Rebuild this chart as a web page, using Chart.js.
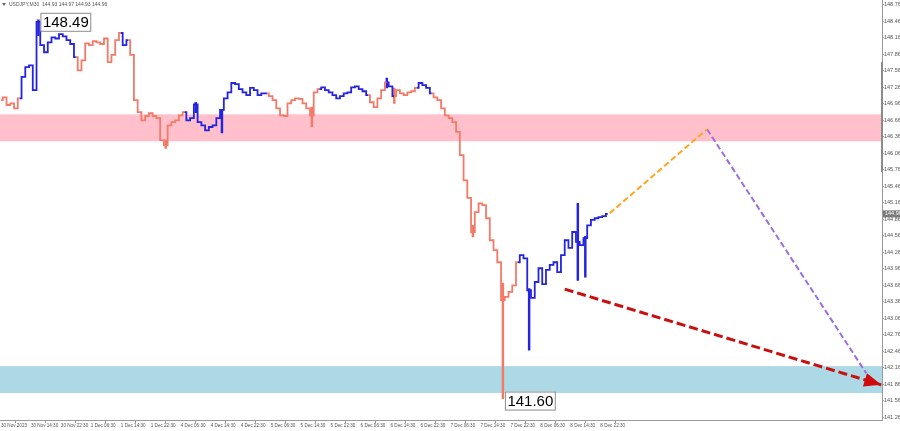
<!DOCTYPE html>
<html>
<head>
<meta charset="utf-8">
<script src="https://cdn.jsdelivr.net/npm/chart.js@4.4.0/dist/chart.umd.min.js"></script>
<style>
html, body { margin: 0; padding: 0; background: #fff; }
</style>
</head>
<body>
<canvas id="myChart" width="900" height="431"></canvas>
<script>
// ----------------------------
// data (USDJPY M30, one close per hour = every 2nd bar)
// ----------------------------
const closes = [
    147.03, 147.08, 146.94, 146.97, 146.88, 147.06, 147.45, 147.63, 147.66, 147.21,
    148.45, 148.03, 147.90, 148.08, 148.17, 148.15, 148.23, 148.19, 148.12, 148.05,
    147.81, 147.57, 147.75, 148.06, 148.03, 148.10, 148.08, 148.05, 148.15, 147.72,
    147.85, 148.12, 148.25, 148.03, 148.12, 147.85, 147.03, 146.81, 146.66, 146.74,
    146.79, 146.74, 146.70, 146.30, 146.21, 146.57, 146.63, 146.66, 146.75, 146.81,
    146.66, 146.70, 146.95, 146.63, 146.57, 146.48, 146.54, 146.57, 146.70, 146.85,
    147.06, 147.17, 147.34, 147.32, 147.23, 147.17, 147.12, 147.25, 147.21, 147.12,
    147.15, 147.15, 147.10, 147.03, 146.88, 146.75, 146.74, 146.97, 147.03, 147.06,
    147.05, 146.97, 146.88, 146.75, 147.17, 147.23, 147.26, 147.21, 147.17, 147.12,
    147.06, 147.10, 147.15, 147.17, 147.26, 147.28, 147.23, 147.19, 147.12, 146.99,
    146.90, 147.06, 147.21, 147.35, 147.28, 147.10, 147.21, 147.15, 147.12, 147.17,
    147.19, 147.25, 147.34, 147.30, 147.25, 147.15, 147.08, 147.03, 146.88, 146.75,
    146.70, 146.63, 146.45, 146.03, 145.57, 145.25, 144.63, 144.99, 145.15, 145.12,
    144.88, 144.48, 144.30, 144.08, 143.39, 143.45, 143.54, 143.66, 144.08, 144.21,
    144.15, 143.57, 143.43, 143.72, 143.97, 143.68, 143.94, 144.03, 144.08, 143.90,
    144.21, 144.48, 144.34, 144.63, 144.45, 144.39, 144.52, 144.75, 144.85, 144.88,
    144.90, 144.92, 144.96
];
const BARS_PER_SLOT = 2;

// wave starts (slot index), alternating down / up, first one is down
const waveStart = [0, 5, 20, 32, 34, 49, 71, 85, 98, 103, 105, 111, 115, 138];

// long wicks
const spikeSlot = [10, 44, 52, 59, 83, 103, 105, 126, 134, 141, 154, 156];
const spikeLow  = [148.20, 146.15, 146.80, 146.43, 146.54, 147.25, 146.97, 144.54, 141.60, 142.48, 143.75, 143.81];
const spikeHigh = [148.49, 146.30, 146.99, 146.85, 146.90, 147.43, 147.25, 144.75, 143.70, 143.60, 145.15, 144.55];

const highLabel = { slot: 10, price: 148.49 };
const lowLabel = { slot: 134, price: 141.60 };

const timeLabels = [
    '30 Nov 2023', '30 Nov 14:30', '30 Nov 22:30', '1 Dec 06:30', '1 Dec 14:30', '1 Dec 22:30',
    '4 Dec 06:30', '4 Dec 14:30', '4 Dec 22:30', '5 Dec 06:30', '5 Dec 14:30', '5 Dec 22:30',
    '6 Dec 06:30', '6 Dec 14:30', '6 Dec 22:30', '7 Dec 06:30', '7 Dec 14:30', '7 Dec 22:30',
    '8 Dec 06:30', '8 Dec 14:30', '8 Dec 22:30'
];
const BARS_PER_LABEL = 16;

const priceTicks = [
    148.76, 148.46, 148.16, 147.86, 147.56, 147.26, 146.96, 146.66, 146.36, 146.06,
    145.76, 145.46, 145.16, 144.86, 144.56, 144.26, 143.96, 143.66, 143.36, 143.06,
    142.76, 142.46, 142.16, 141.86, 141.56, 141.26
];

const sellZone = [146.77, 146.28];
const buyZone = [142.19, 141.70];

// forecast paths, x in M30 bars
const upLegBars = [325, 377];
const upLegPrice = [144.97, 146.50];
const downLegBars = [377, 462];
const downLegPrice = [146.50, 142.06];
const arrowBars = [301, 470];
const arrowPrice = [143.59, 141.85];

const title = 'USDJPY,M30  144.93 144.97 144.93 144.96';
const lastPrice = 144.96;

const BLUE = '#2323e0';
const SALMON = '#f47a68';

function waveColor(slot) {
    let k = 0;
    for (let i = 0; i < waveStart.length; i++) {
        if (waveStart[i] <= slot) k = i;
    }
    return k % 2 === 1 ? BLUE : SALMON;
}

// ----------------------------
// extra drawing
// ----------------------------
const overlays = {
    id: 'overlays',
    beforeDatasetsDraw(chart) {
        const { ctx, chartArea: a, scales: { y } } = chart;
        ctx.save();
        [[sellZone, '#ffc0cb'], [buyZone, '#add8e6']].forEach(([z, c]) => {
            const y0 = y.getPixelForValue(z[0]);
            const y1 = y.getPixelForValue(z[1]);
            ctx.fillStyle = c;
            ctx.fillRect(a.left, y0, a.right - a.left, y1 - y0);
        });
        ctx.restore();
    },
    afterDatasetsDraw(chart) {
        const { ctx, scales: { x, y } } = chart;
        ctx.save();
        // arrow head
        const x0 = x.getPixelForValue(arrowBars[0]), y0 = y.getPixelForValue(arrowPrice[0]);
        const x1 = x.getPixelForValue(arrowBars[1]), y1 = y.getPixelForValue(arrowPrice[1]);
        const ang = Math.atan2(y1 - y0, x1 - x0);
        const len = 17, half = 7;
        ctx.fillStyle = '#d00a0a';
        ctx.beginPath();
        ctx.moveTo(x1, y1);
        ctx.lineTo(x1 - len * Math.cos(ang) + half * Math.sin(ang), y1 - len * Math.sin(ang) - half * Math.cos(ang));
        ctx.lineTo(x1 - len * Math.cos(ang) - half * Math.sin(ang), y1 - len * Math.sin(ang) + half * Math.cos(ang));
        ctx.closePath();
        ctx.fill();

        // extreme labels
        ctx.font = '15px "Liberation Sans", Arial, sans-serif';
        ctx.textBaseline = 'middle';
        [highLabel, lowLabel].forEach(l => {
            const px = x.getPixelForValue(l.slot * BARS_PER_SLOT) + 2;
            const py = y.getPixelForValue(l.price) + 2;
            const txt = l.price.toFixed(2);
            const w = ctx.measureText(txt).width + 4;
            ctx.fillStyle = '#fff';
            ctx.fillRect(px, py - 9, w, 18);
            ctx.strokeStyle = '#8c8c8c';
            ctx.lineWidth = 1;
            ctx.strokeRect(px + 0.5, py - 8.5, w, 18);
            ctx.fillStyle = '#000';
            ctx.fillText(txt, px + 2.5, py + 1);
        });
        ctx.restore();
    },
    afterDraw(chart) {
        const { ctx, chartArea: a, scales: { y } } = chart;
        ctx.save();
        // title
        ctx.fillStyle = '#666';
        ctx.beginPath();
        ctx.moveTo(2, 3); ctx.lineTo(6, 3); ctx.lineTo(4, 6); ctx.closePath();
        ctx.fill();
        ctx.font = '5px "Liberation Sans", Arial, sans-serif';
        ctx.textBaseline = 'middle';
        ctx.fillStyle = '#555';
        ctx.fillText(title, 9, 5);

        // scroll mark on the price axis
        ctx.fillStyle = '#8a8a8a';
        ctx.fillRect(a.right - 1, y.getPixelForValue(147.72), 2, y.getPixelForValue(145.72) - y.getPixelForValue(147.72));

        // current price tag
        const py = y.getPixelForValue(lastPrice);
        ctx.fillStyle = '#7a7a7a';
        ctx.fillRect(a.right + 1, py - 3.5, 20, 7);
        ctx.fillStyle = '#fff';
        ctx.font = '5.5px "Liberation Sans", Arial, sans-serif';
        ctx.fillText(lastPrice.toFixed(2), a.right + 3, py);
        ctx.restore();
    }
};

// ----------------------------
// chart
// ----------------------------
const ctx = document.getElementById('myChart').getContext('2d');
const xFont = { family: '"Liberation Sans", Arial, sans-serif', size: 4.6, lineHeight: 1.1 };
const yFont = { family: '"Liberation Sans", Arial, sans-serif', size: 5.5, lineHeight: 0.1 };

new Chart(ctx, {
    type: 'line',
    data: {
        datasets: [
            {
                type: 'bar',
                data: spikeSlot.map((s, k) => ({ x: s * BARS_PER_SLOT, y: [spikeLow[k], spikeHigh[k]] })),
                backgroundColor: spikeSlot.map(s => waveColor(s)),
                barThickness: 1.8,
                order: 2
            },
            {
                data: closes.map((v, i) => ({ x: i * BARS_PER_SLOT, y: v })),
                borderWidth: 1.8,
                stepped: 'middle',
                pointRadius: 0,
                borderColor: SALMON,
                segment: {
                    borderColor: c => waveColor(c.p0DataIndex)
                },
                order: 1
            },
            {
                data: upLegBars.map((b, i) => ({ x: b, y: upLegPrice[i] })),
                borderColor: '#ffa51e',
                borderWidth: 2,
                borderDash: [6, 3],
                pointRadius: 0,
                order: 0
            },
            {
                data: downLegBars.map((b, i) => ({ x: b, y: downLegPrice[i] })),
                borderColor: '#9a6fe0',
                borderWidth: 2,
                borderDash: [6, 3],
                pointRadius: 0,
                order: 0
            },
            {
                data: arrowBars.map((b, i) => ({ x: b, y: arrowPrice[i] })),
                borderColor: '#c81010',
                borderWidth: 3,
                borderDash: [9, 4],
                pointRadius: 0,
                order: 0
            }
        ]
    },
    options: {
        responsive: false,
        animation: false,
        layout: { padding: 0 },
        plugins: {
            legend: { display: false },
            tooltip: { enabled: false }
        },
        scales: {
            x: {
                type: 'linear',
                min: -0.5,
                max: 470.4,
                offset: false,
                grid: { drawOnChartArea: false, drawTicks: true, tickLength: 3, color: '#9a9a9a' },
                border: { color: '#9a9a9a' },
                ticks: {
                    autoSkip: false,
                    maxRotation: 0,
                    minRotation: 0,
                    align: 'start',
                    padding: 0,
                    color: '#555',
                    font: xFont,
                    callback: v => timeLabels[Math.round(v / BARS_PER_LABEL)]
                },
                afterBuildTicks: s => {
                    s.ticks = timeLabels.map((_, i) => ({ value: i * BARS_PER_LABEL }));
                },
                afterFit: s => { s.height = 11; }
            },
            y: {
                position: 'right',
                min: 141.21,
                max: 148.845,
                grid: { drawOnChartArea: false, drawTicks: true, tickLength: 2, color: '#9a9a9a' },
                border: { color: '#9a9a9a' },
                ticks: {
                    padding: 0,
                    color: '#555',
                    font: yFont,
                    callback: v => v.toFixed(2)
                },
                afterBuildTicks: s => {
                    s.ticks = priceTicks.map(v => ({ value: v }));
                },
                afterFit: s => { s.width = 18; }
            }
        }
    },
    plugins: [overlays]
});
</script>
</body>
</html>
